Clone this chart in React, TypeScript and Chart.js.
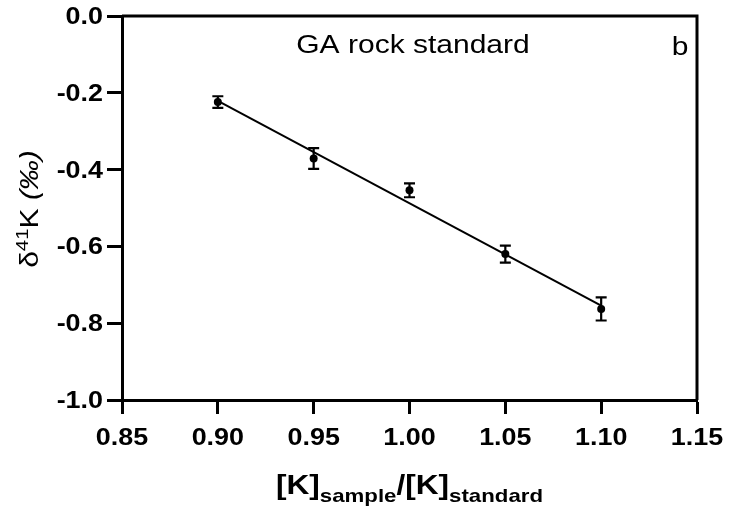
import React, { useEffect, useRef } from "react";
import { Chart, registerables } from "chart.js";

Chart.register(...registerables);

const ratioValues = [0.9, 0.95, 1.0, 1.05, 1.1];
const deltaValues = [-0.224, -0.371, -0.454, -0.62, -0.763];
const deltaErrors = [0.015, 0.027, 0.018, 0.022, 0.03];
const fitX = [0.9, 1.1];
const fitY = [-0.221, -0.754];
const xTicks = [0.85, 0.9, 0.95, 1.0, 1.05, 1.1, 1.15];
const yTicks = [0, -0.2, -0.4, -0.6, -0.8, -1.0];
const annotation = "GA rock standard";
const panelLetter = "b";

const FF = '"Liberation Sans", Arial, Helvetica, sans-serif';
const SX = 1.17;

type Run = { text: string; font: string; dy: number };

function runsWidth(ctx: CanvasRenderingContext2D, runs: Run[], sx: number) {
  let w = 0;
  for (const r of runs) {
    ctx.font = r.font;
    w += ctx.measureText(r.text).width * sx;
  }
  return w;
}

function drawRuns(ctx: CanvasRenderingContext2D, runs: Run[], x0: number, baseline: number, sx: number) {
  let x = x0;
  for (const r of runs) {
    ctx.font = r.font;
    const w = ctx.measureText(r.text).width * sx;
    ctx.save();
    ctx.translate(x, baseline + r.dy);
    ctx.scale(sx, 1);
    ctx.textBaseline = "alphabetic";
    ctx.textAlign = "left";
    ctx.fillText(r.text, 0, 0);
    ctx.restore();
    x += w;
  }
}

const decorPlugin = {
  id: "decor",
  afterDatasetsDraw(chart: any) {
    const ctx: CanvasRenderingContext2D = chart.ctx;
    const xs = chart.scales.x;
    const ys = chart.scales.y;
    const area = chart.chartArea;
    ctx.save();
    // error bars
    ctx.strokeStyle = "#000";
    ctx.lineWidth = 2.2;
    for (let i = 0; i < ratioValues.length; i++) {
      const px = xs.getPixelForValue(ratioValues[i]);
      const pTop = ys.getPixelForValue(deltaValues[i] + deltaErrors[i]);
      const pBot = ys.getPixelForValue(deltaValues[i] - deltaErrors[i]);
      ctx.beginPath();
      ctx.moveTo(px, pTop);
      ctx.lineTo(px, pBot);
      ctx.moveTo(px - 5.5, pTop);
      ctx.lineTo(px + 5.5, pTop);
      ctx.moveTo(px - 5.5, pBot);
      ctx.lineTo(px + 5.5, pBot);
      ctx.stroke();
    }
    // frame top and right
    ctx.lineWidth = 3;
    ctx.beginPath();
    ctx.moveTo(area.left, area.top);
    ctx.lineTo(area.right, area.top);
    ctx.moveTo(area.right, area.top - 1.5);
    ctx.lineTo(area.right, area.bottom);
    ctx.stroke();

    ctx.fillStyle = "#000";
    // tick labels
    const tickFont = `bold 23px ${FF}`;
    for (const v of yTicks) {
      const py = ys.getPixelForValue(v);
      const label = v.toFixed(1);
      ctx.font = tickFont;
      const w = ctx.measureText(label).width * SX;
      drawRuns(ctx, [{ text: label, font: tickFont, dy: 0 }], 103 - w, py + 8, SX);
    }
    for (const v of xTicks) {
      const px = xs.getPixelForValue(v);
      const label = v.toFixed(2);
      ctx.font = tickFont;
      const w = ctx.measureText(label).width * SX;
      drawRuns(ctx, [{ text: label, font: tickFont, dy: 0 }], px - w / 2, 445, SX);
    }

    // x title
    const big = `bold 27px ${FF}`;
    const sub = `bold 19px ${FF}`;
    const xRuns: Run[] = [
      { text: "[K]", font: big, dy: 0 },
      { text: "sample", font: sub, dy: 8 },
      { text: "/", font: big, dy: 0 },
      { text: "[K]", font: big, dy: 0 },
      { text: "standard", font: sub, dy: 8 },
    ];
    const xw = runsWidth(ctx, xRuns, 1.17);
    drawRuns(ctx, xRuns, (area.left + area.right) / 2 - xw / 2, 494, 1.17);

    // annotation
    const ann = `25px ${FF}`;
    const aRuns: Run[] = [{ text: annotation, font: ann, dy: 0 }];
    const aw = runsWidth(ctx, aRuns, 1.2);
    drawRuns(ctx, aRuns, 413 - aw / 2, 53, 1.2);
    const bRuns: Run[] = [{ text: panelLetter, font: ann, dy: 0 }];
    const bw = runsWidth(ctx, bRuns, 1.2);
    drawRuns(ctx, bRuns, 680 - bw / 2, 55, 1.2);

    // y title (rotated)
    const yf = `25px ${FF}`;
    const ysup = `17px ${FF}`;
    const yfi = `italic 25px ${FF}`;
    const yRuns: Run[] = [
      { text: "δ", font: yf, dy: 0 },
      { text: "41", font: ysup, dy: -10 },
      { text: "K ", font: yf, dy: 0 },
      { text: "(‰)", font: yfi, dy: 0 },
    ];
    ctx.save();
    ctx.translate(38, 209);
    ctx.rotate(-Math.PI / 2);
    const yLen = 1.2;
    const yw = runsWidth(ctx, yRuns, yLen);
    drawRuns(ctx, yRuns, -yw / 2, 0, yLen);
    ctx.restore();

    ctx.restore();
  },
};

export default function App() {
  const ref = useRef<HTMLCanvasElement | null>(null);
  useEffect(() => {
    if (!ref.current) return;
    const chart = new Chart(ref.current, {
      type: "scatter",
      data: {
        datasets: [
          {
            type: "line",
            data: fitX.map((x, i) => ({ x, y: fitY[i] })),
            borderColor: "#000",
            borderWidth: 2,
            pointRadius: 0,
            fill: false,
          } as any,
          {
            data: ratioValues.map((x, i) => ({ x, y: deltaValues[i] })),
            backgroundColor: "#000",
            borderColor: "#000",
            pointRadius: 4,
            pointBorderWidth: 0,
          },
        ],
      },
      options: {
        animation: false,
        responsive: false,
        maintainAspectRatio: false,
        layout: { padding: { left: 0, top: 16, right: 32, bottom: 0 } },
        plugins: { legend: { display: false }, tooltip: { enabled: false } },
        scales: {
          x: {
            type: "linear",
            min: 0.85,
            max: 1.15,
            ticks: { display: false, stepSize: 0.05 },
            afterBuildTicks: (s: any) => {
              s.ticks = xTicks.map((v) => ({ value: v }));
            },
            afterFit: (s: any) => {
              s.height = 114;
            },
            grid: {
              drawOnChartArea: false,
              drawTicks: true,
              tickLength: 14,
              tickWidth: 3,
              tickColor: "#000",
            },
            border: { display: true, width: 3, color: "#000" },
          },
          y: {
            type: "linear",
            min: -1,
            max: 0,
            ticks: { display: false, stepSize: 0.2 },
            afterBuildTicks: (s: any) => {
              s.ticks = yTicks.map((v) => ({ value: v }));
            },
            afterFit: (s: any) => {
              s.width = 122;
            },
            grid: {
              drawOnChartArea: false,
              drawTicks: true,
              tickLength: 15,
              tickWidth: 3,
              tickColor: "#000",
            },
            border: { display: true, width: 3, color: "#000" },
          },
        },
      },
      plugins: [decorPlugin],
    });
    return () => chart.destroy();
  }, []);
  return (
    <div style={{ position: "fixed", left: 0, top: 0, width: 729, height: 514, background: "#fff" }}>
      <canvas ref={ref} width={729} height={514} style={{ width: 729, height: 514 }} />
    </div>
  );
}
